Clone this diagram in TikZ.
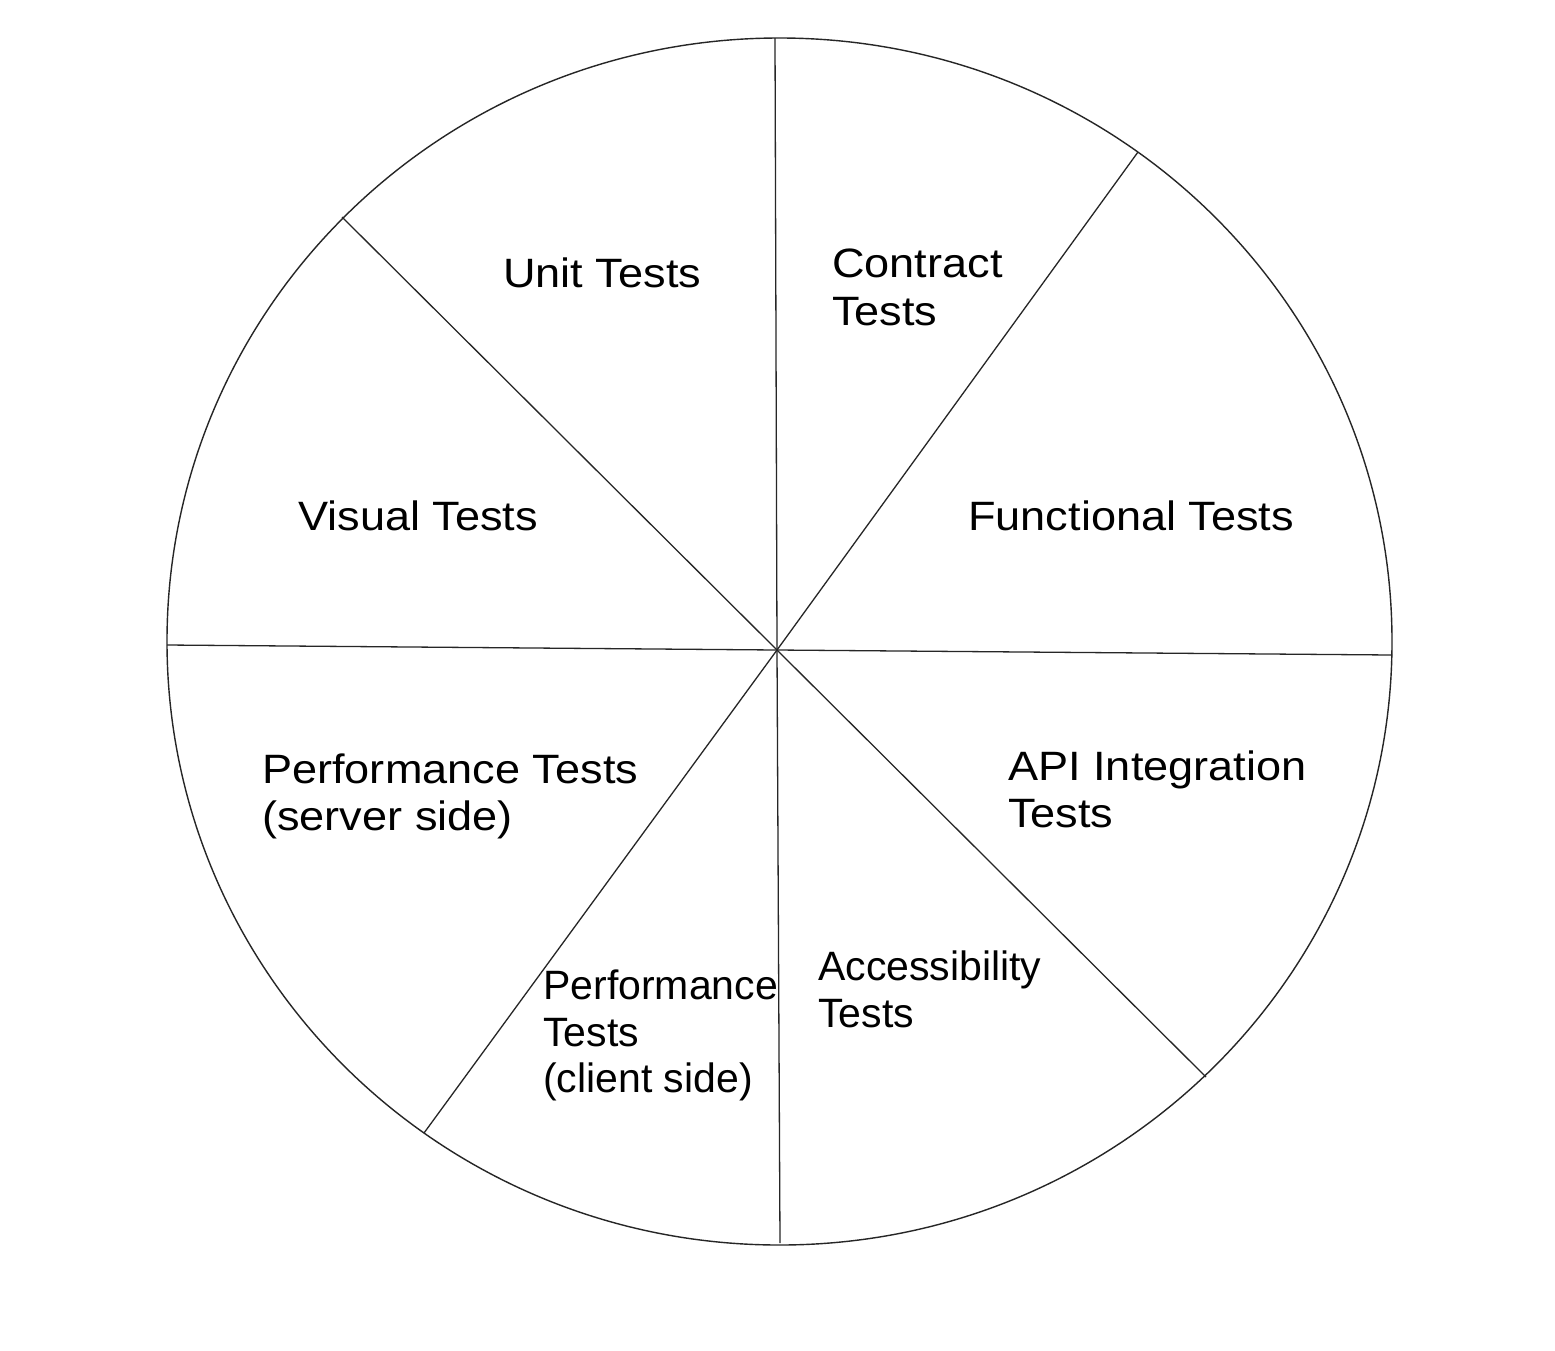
\documentclass[tikz,border=0pt]{standalone}
\usepackage{fontspec}
\setmainfont{Liberation Sans}
\newfontfamily\widefont[FakeStretch=1.1]{Liberation Sans}
\begin{document}
\begin{tikzpicture}[x=1pt,y=-1pt,
  rim/.style={draw=black!85,line width=1.4pt},
  spoke/.style={draw=black!85,line width=1.3pt},
  lbl/.style={anchor=base west,inner sep=0pt,font=\fontsize{41}{47}\selectfont\widefont},
  lbln/.style={anchor=base west,inner sep=0pt,font=\fontsize{41}{47}\selectfont}]
\useasboundingbox[fill=white] (0,0) rectangle (1555,1350);
\draw[rim] (779.5,641.5) ellipse [x radius=612.5, y radius=603.5];
\coordinate (c) at (777,650);
\coordinate (n) at (775,38);
\coordinate (s) at (780,1243);
\coordinate (ne) at (1138,152);
\coordinate (sw) at (424,1133);
\coordinate (w) at (167,645);
\coordinate (e) at (1392,655);
\coordinate (nw) at (342,217);
\coordinate (se) at (1206,1077);
\foreach \p in {n,s,ne,sw,w,e,nw,se} \draw[spoke] (c) -- (\p);
\node[lbl] (unit) at (503,287) {Unit Tests};
\node[lbl] (contract1) at (832,277) {Contract};
\node[lbl] (contract2) at (832,325) {Tests};
\node[lbl] (visual) at (298,530) {Visual Tests};
\node[lbl] (functional) at (968,530) {Functional Tests};
\node[lbl] (perfs1) at (262,783) {Performance Tests};
\node[lbl] (perfs2) at (262,830) {(server side)};
\node[lbl] (api1) at (1008,780) {API Integration};
\node[lbl] (api2) at (1008,827) {Tests};
\node[lbln] (acc1) at (818,980) {Accessibility};
\node[lbln] (acc2) at (818,1027) {Tests};
\node[lbln] (perfc1) at (543,999) {Performance};
\node[lbln] (perfc2) at (543,1046) {Tests};
\node[lbln] (perfc3) at (543,1092) {(client side)};
\end{tikzpicture}
\end{document}
